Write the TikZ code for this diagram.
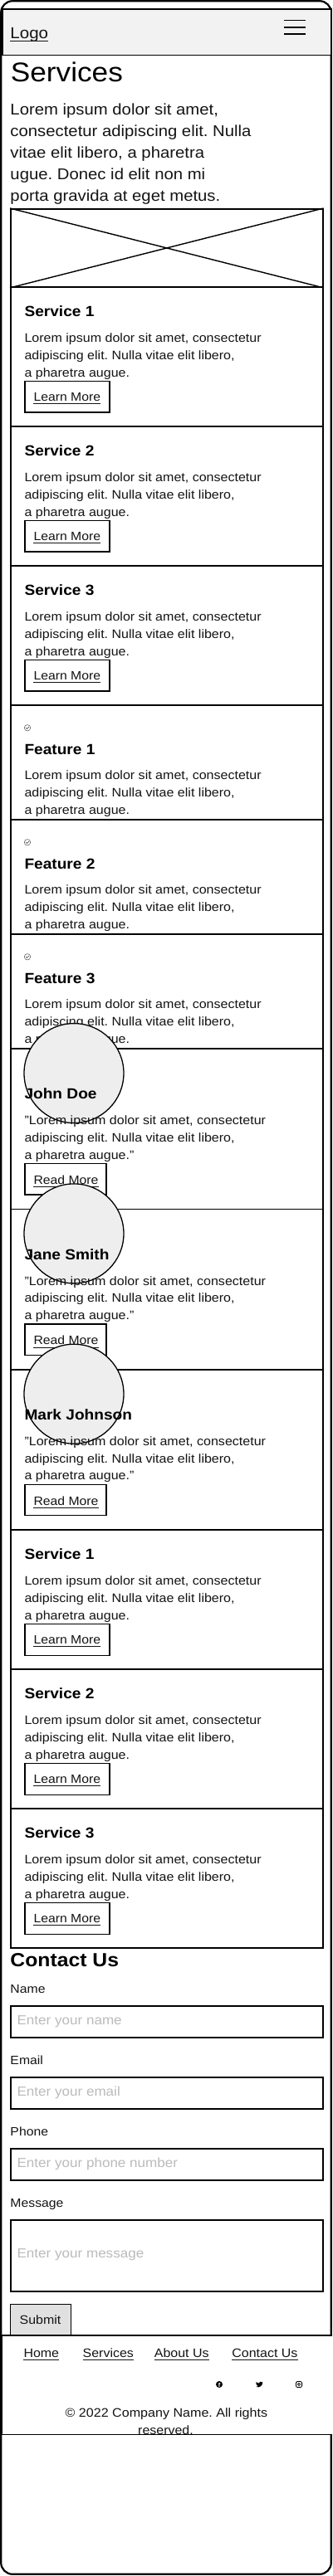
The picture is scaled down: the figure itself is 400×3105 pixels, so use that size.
\documentclass[tikz,border=0pt]{standalone}
\usepackage{fontspec}
\setmainfont{Liberation Sans}[FakeStretch=1.08]
\usetikzlibrary{calc,positioning}
\definecolor{headgray}{HTML}{F2F2F2}
\definecolor{avatargray}{HTML}{EEEEEE}
\definecolor{submitgray}{HTML}{E0E0E0}
\definecolor{holdergray}{HTML}{BBBBBB}
\definecolor{inkgray}{HTML}{141414}
\newcommand{\fsize}[1]{\fontsize{#1}{#1}\selectfont}
\tikzset{
  cardbox/.style={draw, line width=1.6pt, fill=white, anchor=north west, minimum width=376pt, inner sep=0pt},
  btnbox/.style={draw, line width=1.4pt, anchor=north west, minimum height=37.5pt, inner sep=0pt},
  fieldbox/.style={draw, line width=1.7pt, fill=white, anchor=north west, minimum width=376pt, inner sep=0pt},
  basetext/.style={anchor=base west, inner sep=0pt, text=inkgray},
  cardtitle/.style={basetext, text=black, font=\fsize{17.7}\bfseries},
  cardbody/.style={basetext, align=left, font=\fontsize{14.85}{20.7}\selectfont},
  linktext/.style={basetext, font=\fsize{14.6}},
  fieldlabel/.style={basetext, font=\fsize{14.6}},
  holder/.style={basetext, text=holdergray, font=\fsize{15.8}},
  footlink/.style={basetext, font=\fsize{14.8}},
  underl/.style={line width=0.9pt, inkgray},
}
% underlined text at a baseline point
\newcommand{\ulnode}[4]{%
  \node[#1] (#2) at #3 {#4};
  \draw[underl] ($(#2.base west)+(0,3.3)$) -- ($(#2.base east)+(0,3.3)$);
}
% name, top, title
\newcommand{\servicecard}[3]{%
  \node[cardbox, minimum height=168pt] (#1) at (12,#2) {};
  \node[cardtitle] (#1title) at ($(#1.north west)+(17.3,36)$) {#3};
  \node[cardbody] (#1text) at ($(#1.north west)+(17.3,109)$)
    {Lorem ipsum dolor sit amet, consectetur\\adipiscing elit. Nulla vitae elit libero,\\a pharetra augue.};
  \node[btnbox, minimum width=102pt] (#1btn) at ($(#1.north west)+(17.3,113.8)$) {};
  \ulnode{linktext}{#1link}{($(#1.north west)+(28.3,138.3)$)}{Learn More}
}
\newcommand{\featurecard}[3]{%
  \node[cardbox, minimum height=138pt] (#1) at (12,#2) {};
  \node[circle, draw=black!70, line width=0.5pt, minimum size=7.4pt, inner sep=0pt] (#1icon) at ($(#1.north west)+(21,28)$) {};
  \draw[black!80, line width=0.6pt] ($(#1icon.center)+(-1.7,0.1)$) -- ++(1.2,1.1) -- ++(2.2,-2.3);
  \node[cardtitle] (#1title) at ($(#1.north west)+(17.3,60)$) {#3};
  \node[cardbody] (#1text) at ($(#1.north west)+(17.3,131.7)$)
    {Lorem ipsum dolor sit amet, consectetur\\adipiscing elit. Nulla vitae elit libero,\\a pharetra augue.};
}
\newcommand{\quotecard}[3]{%
  \node[cardbox, minimum height=193.3pt] (#1) at (12,#2) {};
  \node[circle, draw, line width=1.3pt, fill=avatargray, minimum size=120pt, inner sep=0pt] (#1face) at ($(#1.north west)+(77,30.3)$) {};
  \node[cardtitle] (#1title) at ($(#1.north west)+(17.3,61.5)$) {#3};
  \node[cardbody] (#1text) at ($(#1.north west)+(17.3,134)$)
    {"Lorem ipsum dolor sit amet, consectetur\\adipiscing elit. Nulla vitae elit libero,\\a pharetra augue."};
  \node[btnbox, minimum width=98pt] (#1btn) at ($(#1.north west)+(17.3,138.6)$) {};
  \ulnode{linktext}{#1link}{($(#1.north west)+(28.3,164.2)$)}{Read More}
}
\begin{document}
\frenchspacing
\begin{tikzpicture}[x=1pt, y=-1pt]
  \useasboundingbox (0,0) rectangle (400,3105);

  % Phone frame
  \draw[line width=2.2pt, rounded corners=14pt] (1.2,1.2) rectangle (398.8,3102.8);

  % Header
  \node[draw, line width=1.5pt, fill=headgray, anchor=north west, minimum width=396pt, minimum height=55.5pt, inner sep=0pt] (header) at (2,10) {};
  \ulnode{basetext, font=\fsize{19}}{logo}{(12.3,46)}{Logo}
  \foreach \liney in {24.3,32.8,41.2}
    \draw[line width=1.5pt] (342,\liney) -- (368,\liney);

  % Intro
  \node[basetext, text=black, font=\fsize{32.6}] (heading) at (12.7,98) {Services};
  \node[basetext, align=left, font=\fontsize{18.8}{26}\selectfont] (intro) at (12.3,242.3)
    {Lorem ipsum dolor sit amet,\\consectetur adipiscing elit. Nulla\\vitae elit libero, a pharetra\\ugue. Donec id elit non mi\\porta gravida at eget metus.};

  % Image placeholder
  \node[cardbox, minimum height=94.3pt] (img) at (12,251) {};
  \draw[line width=1.4pt] (img.north west) -- (img.south east);
  \draw[line width=1.4pt] (img.south west) -- (img.north east);

  % First services
  \servicecard{svca}{345}{Service 1}
  \servicecard{svcb}{513}{Service 2}
  \servicecard{svcc}{681}{Service 3}

  % Features
  \featurecard{feata}{849.3}{Feature 1}
  \featurecard{featb}{987.3}{Feature 2}
  \featurecard{featc}{1125.3}{Feature 3}

  % Testimonials
  \quotecard{quotea}{1263.3}{John Doe}
  \quotecard{quoteb}{1456.6}{Jane Smith}
  \quotecard{quotec}{1649.9}{Mark Johnson}

  % Second services
  \servicecard{svcd}{1843.2}{Service 1}
  \servicecard{svce}{2011.2}{Service 2}
  \servicecard{svcf}{2179.2}{Service 3}

  % Contact form
  \node[basetext, text=black, font=\fsize{22.9}\bfseries] (contact) at (12.3,2370.7) {Contact Us};
  \node[fieldlabel] (namelbl) at (12.3,2402.7) {Name};
  \node[fieldbox, minimum height=38pt] (namebox) at (12,2417) {};
  \node[holder] (namehold) at (20.4,2440) {Enter your name};
  \node[fieldlabel] (maillbl) at (12.3,2488.7) {Email};
  \node[fieldbox, minimum height=38pt] (mailbox) at (12,2503) {};
  \node[holder] (mailhold) at (20.4,2526) {Enter your email};
  \node[fieldlabel] (phonelbl) at (12.3,2574.7) {Phone};
  \node[fieldbox, minimum height=38pt] (phonebox) at (12,2589) {};
  \node[holder] (phonehold) at (20.4,2612) {Enter your phone number};
  \node[fieldlabel] (msglbl) at (12.3,2660.7) {Message};
  \node[fieldbox, minimum height=86pt] (msgbox) at (12,2675) {};
  \node[holder] (msghold) at (20.4,2721.7) {Enter your message};
  \node[draw, line width=1.3pt, fill=submitgray, anchor=north west, minimum width=72.5pt, minimum height=38pt, inner sep=0pt] (submit) at (12,2777) {};
  \node[basetext, font=\fsize{14.8}] (submittxt) at (23.5,2801.7) {Submit};

  % Footer
  \node[fill=white, anchor=north west, minimum width=398pt, minimum height=119.3pt, inner sep=0pt, outer sep=0pt] (footer) at (2,2815) {};
  \draw[line width=1.6pt] (footer.north east) -- (footer.north west) -- (footer.south west) -- (footer.south east);
  \ulnode{footlink}{flinka}{(28.3,2841)}{Home}
  \ulnode{footlink}{flinkb}{(99.5,2841)}{Services}
  \ulnode{footlink}{flinkc}{(185.7,2841)}{About Us}
  \ulnode{footlink}{flinkd}{(279.2,2841)}{Contact Us}

  % Social icons
  \fill (264,2874) circle (4pt);
  \node[text=white, inner sep=0pt, font=\fontsize{7}{7}\selectfont\bfseries] (fb) at (264.2,2874.6) {f};
  \fill (308.2,2871.3) .. controls (309.5,2872.4) and (310.5,2872.5) .. (311.8,2872.6)
    .. controls (312,2870.6) and (314.3,2870.2) .. (315.4,2871.4) -- (316.4,2871) -- (315.9,2872.2) -- (316.2,2872.2)
    .. controls (315.8,2875.5) and (313.2,2878) .. (309,2877.2) -- (308.4,2876.8)
    .. controls (309.3,2876.8) and (310,2876.5) .. (310.8,2876)
    .. controls (309,2875.5) and (308,2873.5) .. (308.2,2871.3) -- cycle;
  \draw[line width=0.8pt, rounded corners=1.6pt] (356.4,2870.4) rectangle (363.6,2877.6);
  \draw[line width=0.8pt] (360,2874) circle (1.6pt);

  \node[basetext, anchor=base, font=\fsize{14.9}] (copyright) at (200.4,2913.3) {© 2022 Company Name. All rights};
  \begin{scope}
    \clip (2,2815) rectangle (400,2933.6);
    \node[basetext, anchor=base, font=\fsize{14.8}] (reserved) at (199.5,2934) {reserved.};
  \end{scope}
\end{tikzpicture}
\end{document}
